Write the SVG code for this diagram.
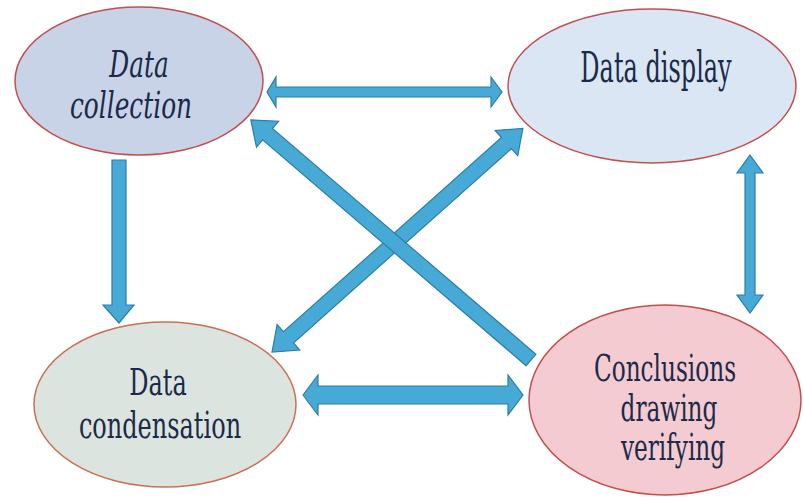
<svg xmlns="http://www.w3.org/2000/svg" width="803" height="497" viewBox="0 0 803 497">
<style>
.arr{fill:#47aad6;stroke:#2b7ea6;stroke-width:1.2;stroke-linejoin:miter}
.node{stroke-width:1.5}
.lbl{fill:#1b2a48;text-anchor:middle;font-family:'DejaVu Serif',serif}
</style>
<rect width="803" height="497" fill="#ffffff"/>
<g id="node-collection">
<ellipse class="node" cx="139" cy="81" rx="124" ry="74" fill="#c8d3e8" stroke="#c0504d"/>
<g transform="translate(139,77) scale(0.8,1.18)"><text class="lbl" font-size="31" font-style="italic">Data</text></g>
<g transform="translate(131,118) scale(0.8,1.18)"><text class="lbl" font-size="31" font-style="italic">collection</text></g>
</g>
<g id="node-display">
<ellipse class="node" cx="652" cy="86" rx="144" ry="77" fill="#dae6f3" stroke="#c0504d"/>
<g transform="translate(656,82) scale(0.8,1.4)"><text class="lbl" font-size="30">Data display</text></g>
</g>
<g id="node-condensation">
<ellipse class="node" cx="165" cy="404.5" rx="131" ry="82.5" fill="#dbe4df" stroke="#cc6f52"/>
<g transform="translate(158,395) scale(0.8,1.22)"><text class="lbl" font-size="30">Data</text></g>
<g transform="translate(160,438) scale(0.8,1.22)"><text class="lbl" font-size="30">condensation</text></g>
</g>
<g id="node-conclusions">
<ellipse class="node" cx="665" cy="400" rx="136" ry="95" fill="#f5cbd2" stroke="#c0504d"/>
<g transform="translate(665,381) scale(0.8,1.3)"><text class="lbl" font-size="29">Conclusions</text></g>
<g transform="translate(669,421) scale(0.8,1.3)"><text class="lbl" font-size="29">drawing</text></g>
<g transform="translate(673,460) scale(0.8,1.3)"><text class="lbl" font-size="29">verifying</text></g>
</g>
<g id="connectors">
<polygon class="arr" points="267,92 276,77 276,87 491,87 491,77 502,92 491,107 491,97 276,97 276,107"/>
<polygon class="arr" points="303,395 318,375 318,386 508,386 508,375 523,395 508,415 508,404 318,404 318,415"/>
<polygon class="arr" points="112,160 126,160 126,305 134,305 119,323 103,305 112,305"/>
<polygon class="arr" points="750,155 763,173 755,173 755,295 763,295 750,313 737,295 745,295 745,173 737,173"/>
<polygon class="arr" transform="translate(272,352) rotate(-41.7)" points="0,0 22,-17 22,-7.5 314,-7.5 314,-17 336,0 314,17 314,7.5 22,7.5 22,17"/>
<polygon class="arr" transform="translate(531,360) rotate(-139.4)" points="0,-7.5 347,-7.5 347,-17 369,0 347,17 347,7.5 0,7.5"/>
</g>
</svg>
